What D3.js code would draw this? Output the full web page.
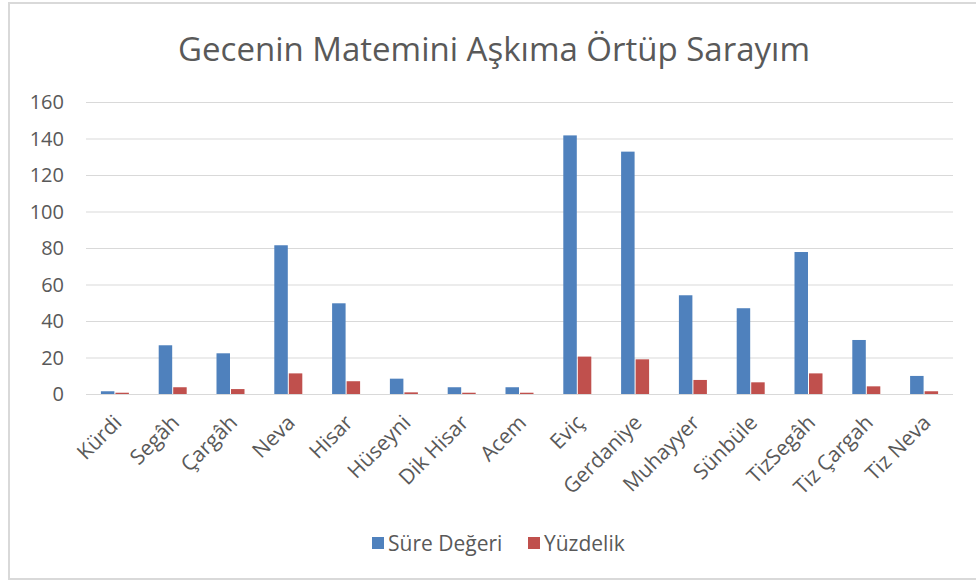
<!DOCTYPE html>
<html>
<head>
<meta charset="utf-8">
<script src="https://cdn.jsdelivr.net/npm/d3@7"></script>
<style>
  body { margin: 0; background: #fff; }
  text { font-family: "Open Sans", "Noto Sans", sans-serif; fill: #595959; }
</style>
</head>
<body>
<svg id="chart" width="976" height="583"></svg>
<script>
// chart data
const makamlar = ['Kürdi', 'Segâh', 'Çargâh', 'Neva', 'Hisar', 'Hüseyni', 'Dik Hisar', 'Acem',
    'Eviç', 'Gerdaniye', 'Muhayyer', 'Sünbüle', 'TizSegâh', 'Tiz Çargah', 'Tiz Neva'];
const sureDegeri = [1.5, 26.7, 22.3, 81.5, 49.7, 8.4, 3.7, 3.7, 141.7, 132.8, 54.1, 47, 77.8, 29.6, 9.9];
const yuzdelik = [0.7, 3.7, 2.7, 11.3, 7, 0.9, 0.7, 0.7, 20.5, 19, 7.7, 6.4, 11.3, 4.2, 1.5];
const seriesNames = ['Süre Değeri', 'Yüzdelik'];
const seriesColors = ['#4f81bd', '#c0504d'];
const yTicks = [0, 20, 40, 60, 80, 100, 120, 140, 160];

const svg = d3.select('#chart');

// outer frame
svg.append('rect')
    .attr('x', 9).attr('y', 3)
    .attr('width', 980).attr('height', 576)
    .attr('fill', 'none')
    .attr('stroke', '#d9d9d9')
    .attr('stroke-width', 2);

svg.append('text')
    .attr('x', 494).attr('y', 61)
    .attr('text-anchor', 'middle')
    .attr('font-size', '33px')
    .text('Gecenin Matemini Aşkıma Örtüp Sarayım');

const plotLeft = 86, plotRight = 953, plotTop = 102, plotBottom = 394;

const x = d3.scaleBand().domain(makamlar).range([plotLeft, plotRight]);
// two bars of ~13px side by side in the middle of each band
const groupW = 28;
const x1 = d3.scaleBand().domain([0, 1])
    .range([(x.bandwidth() - groupW) / 2, (x.bandwidth() + groupW) / 2])
    .paddingInner(0.07);
const y = d3.scaleLinear().domain([0, 160]).range([plotBottom, plotTop]);

// gridlines
svg.append('g')
    .selectAll('line')
    .data(yTicks)
    .join('line')
    .attr('x1', plotLeft).attr('x2', plotRight)
    .attr('y1', d => y(d) + 0.5).attr('y2', d => y(d) + 0.5)
    .attr('stroke', '#d9d9d9')
    .attr('stroke-width', 1);

// y axis labels
svg.append('g')
    .selectAll('text')
    .data(yTicks)
    .join('text')
    .attr('x', 64)
    .attr('y', d => y(d))
    .attr('dy', '0.35em')
    .attr('text-anchor', 'end')
    .attr('font-size', '20px')
    .text(d => d);

// bars
const series = [sureDegeri, yuzdelik];
series.forEach((vals, s) => {
    svg.append('g')
        .selectAll('rect')
        .data(vals)
        .join('rect')
        .attr('x', (d, i) => x(makamlar[i]) + x1(s))
        .attr('width', x1.bandwidth())
        .attr('y', d => y(d))
        .attr('height', d => plotBottom - y(d))
        .attr('fill', seriesColors[s]);
});

// category labels
svg.append('g')
    .selectAll('text')
    .data(makamlar)
    .join('text')
    .attr('transform', d => 'translate(' + (x(d) + x.bandwidth() / 2 + 8) + ',' + 424 + ') rotate(-45)')
    .attr('text-anchor', 'end')
    .attr('font-size', '21px')
    .text(d => d);

// legend
const legend = svg.append('g');
const legendX = [372, 528];
seriesNames.forEach((name, i) => {
    legend.append('rect')
        .attr('x', legendX[i]).attr('y', 537)
        .attr('width', 12).attr('height', 12)
        .attr('fill', seriesColors[i]);
    legend.append('text')
        .attr('x', legendX[i] + 16).attr('y', 551)
        .attr('font-size', '21px')
        .text(name);
});
</script>
</body>
</html>
